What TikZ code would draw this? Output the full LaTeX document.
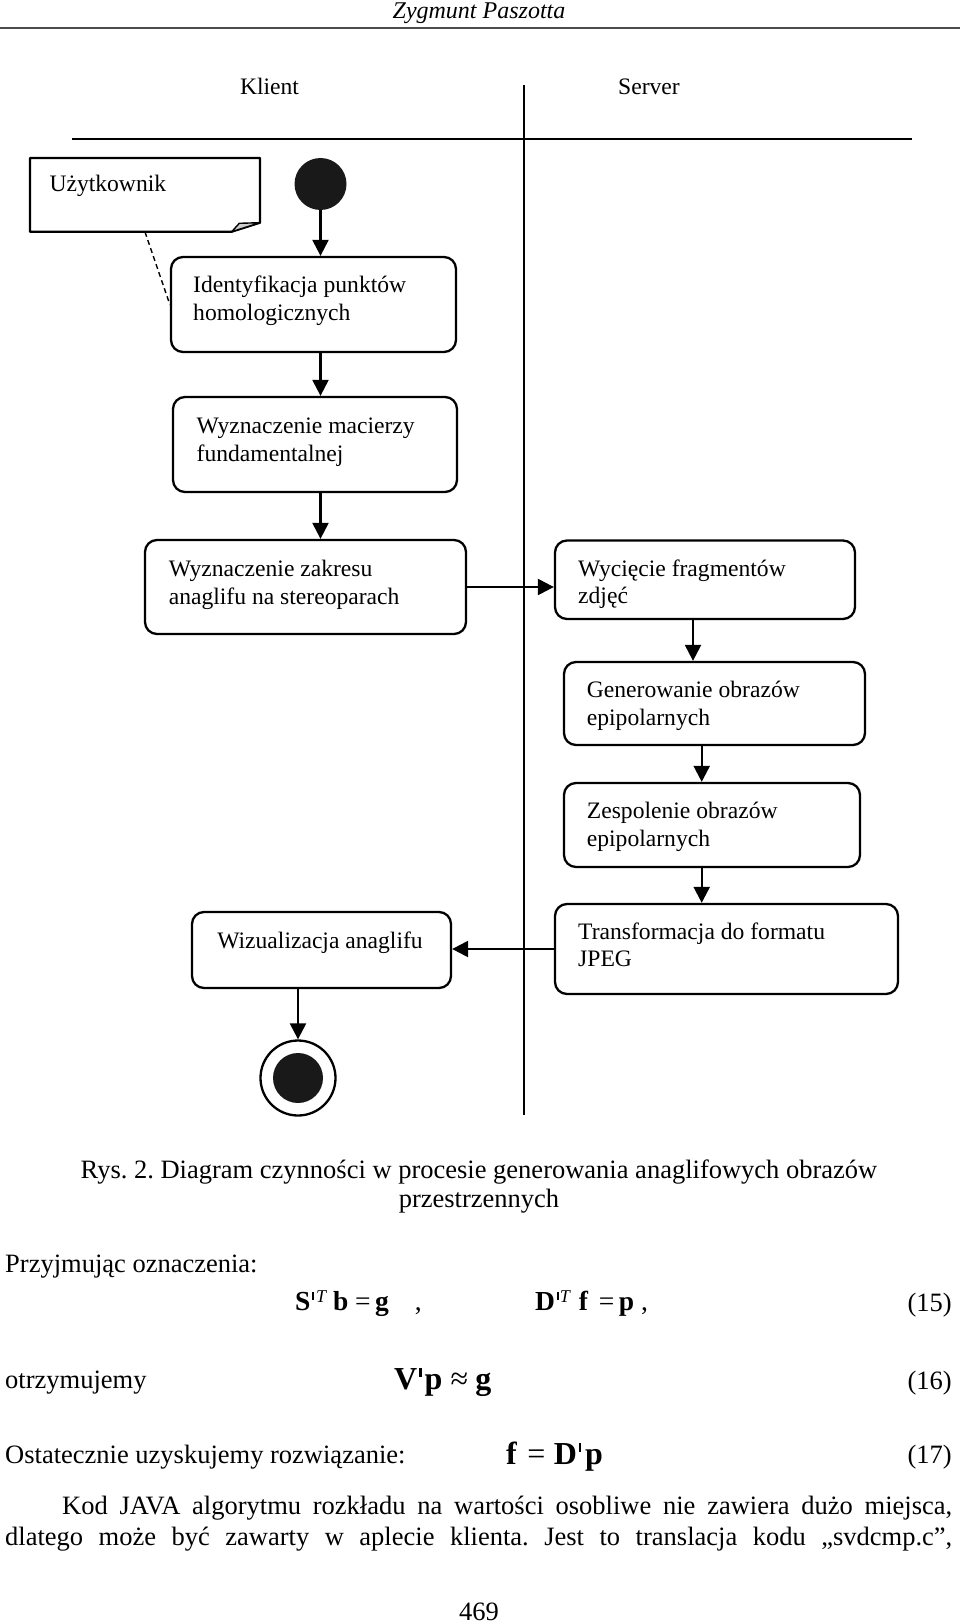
\documentclass[tikz,border=0pt]{standalone}
\usepackage{fontspec}
\setmainfont{Liberation Serif}
\usetikzlibrary{arrows.meta}
\newcommand\prm[3]{\raisebox{#1}{\rule{#3}{#2}}}
\tikzset{
 lane/.style={line width=2.2pt},
 actbox/.style={draw, line width=2.3pt, rounded corners=12pt, inner sep=0pt},
 flow/.style={line width=2.3pt, -{Triangle[width=16pt,length=16pt]}},
 dtxt/.style={font=\fontsize{23.6}{28}\selectfont, inner sep=0pt, anchor=base west},
 btxt/.style={font=\fontsize{26.5}{30}\selectfont, inner sep=0pt},
 eqs/.style={font=\fontsize{27.5}{30}\selectfont\bfseries, inner sep=0pt, anchor=base west},
 eqb/.style={font=\fontsize{32}{34}\selectfont\bfseries, inner sep=0pt, anchor=base west},
}
\frenchspacing
\begin{document}
\frenchspacing
\begin{tikzpicture}[x=1pt,y=-1pt]
\useasboundingbox (0,0) rectangle (960,1624);
% header
\node[font=\fontsize{24}{26}\selectfont\itshape, anchor=base, inner sep=0pt] (hdr) at (479,19) {Zygmunt Paszotta};
\draw[line width=2.6pt, black!70] (0,28) -- (960,28);
% swimlanes
\node[dtxt, anchor=base] (klient) at (269.5,95) {Klient};
\node[dtxt, anchor=base] (server) at (649,95) {Server};
\draw[lane] (72,139) -- (912,139);
\draw[lane] (524,85) -- (524,1115);
% note
\draw[line width=2.2pt, line join=round, fill=white] (30,158) -- (260,158) -- (260,222.7) -- (231.7,231.7) -- (30,231.7) -- cycle;
\draw[line width=1.4pt, line join=round, fill=gray!40] (231.7,231.7) -- (239.3,223.3) -- (260,222.7) -- cycle;
\node[dtxt] (note) at (49.3,191.7) {Użytkownik};
\coordinate (notept) at (145,232);
% initial / final
\node[circle, fill=black!90, minimum size=52pt, inner sep=0pt] (init) at (320.5,184) {};
\node[circle, draw, line width=2.3pt, minimum size=75pt, inner sep=0pt] (fin) at (298,1078) {};
\node[circle, fill=black!90, minimum size=50pt, inner sep=0pt] (finc) at (298,1078) {};
% activities
\node[actbox, minimum width=285pt, minimum height=95pt] (b1) at (313.5,304.5) {};
\node[actbox, minimum width=284pt, minimum height=95pt] (b2) at (315,444.5) {};
\node[actbox, minimum width=321pt, minimum height=94pt] (b3) at (305.5,587) {};
\node[actbox, minimum width=300pt, minimum height=78.5pt] (b4) at (705,579.75) {};
\node[actbox, minimum width=301pt, minimum height=83pt] (b5) at (714.5,703.5) {};
\node[actbox, minimum width=296pt, minimum height=84pt] (b6) at (712,825) {};
\node[actbox, minimum width=343pt, minimum height=90pt] (b7) at (726.5,949) {};
\node[actbox, minimum width=259pt, minimum height=76pt] (b8) at (321.5,950) {};
% activity texts
\node[dtxt] (t1a) at (193,292.7) {Identyfikacja punktów};
\node[dtxt] (t1b) at (193,320) {homologicznych};
\node[dtxt] (t2a) at (196.5,433) {Wyznaczenie macierzy};
\node[dtxt] (t2b) at (196.5,461) {fundamentalnej};
\node[dtxt] (t3a) at (168.6,576) {Wyznaczenie zakresu};
\node[dtxt] (t3b) at (168.6,604) {anaglifu na stereoparach};
\node[dtxt] (t4a) at (578,576) {Wycięcie fragmentów};
\node[dtxt] (t4b) at (578,603.5) {zdjęć};
\node[dtxt] (t5a) at (586.7,697) {Generowanie obrazów};
\node[dtxt] (t5b) at (586.7,725) {epipolarnych};
\node[dtxt] (t6a) at (586.7,818.5) {Zespolenie obrazów};
\node[dtxt] (t6b) at (586.7,846.5) {epipolarnych};
\node[dtxt] (t7a) at (578,939) {Transformacja do formatu};
\node[dtxt] (t7b) at (578,966.7) {JPEG};
\node[dtxt, anchor=base] (t8) at (320,948) {Wizualizacja anaglifu};
% connectors
\draw[line width=1.4pt, dash pattern=on 5pt off 3.5pt] (notept) -- (b1.west);
\draw[flow] (init) -- (init |- b1.north);
\draw[flow] (b1.south -| init) -- (b2.north -| init);
\draw[flow] (b2.south -| init) -- (b3.north -| init);
\draw[flow] (b3.east) -- (b3.east -| b4.west);
\coordinate (x45) at (693,0);
\coordinate (x56) at (701.7,0);
\draw[flow] (b4.south -| x45) -- (b5.north -| x45);
\draw[flow] (b5.south -| x56) -- (b6.north -| x56);
\draw[flow] (b6.south -| x56) -- (b7.north -| x56);
\draw[flow] (b7.west) -- (b7.west -| b8.east);
\draw[flow] (b8.south -| fin) -- (fin.north);
% caption
\node[btxt, anchor=base] (cap1) at (479,1178) {Rys. 2. Diagram czynności w procesie generowania anaglifowych obrazów};
\node[btxt, anchor=base] (cap2) at (479,1207) {przestrzennych};
% body
\node[btxt, anchor=base west] (p1) at (5,1272) {Przyjmując oznaczenia:};
\node[eqs] (eq15a) at (295,1310) {S\hspace{1.5pt}\prm{10.5pt}{8pt}{2.2pt}\hspace{2pt}\raisebox{8pt}{\fontsize{18}{18}\selectfont\mdseries\itshape T}\hspace{7pt}b\hspace{6.5pt}{\mdseries =}\hspace{4.5pt}g\hspace{26pt}{\mdseries ,}};
\node[eqs] (eq15b) at (535,1310) {D\hspace{2pt}\prm{10.5pt}{8pt}{2.2pt}\hspace{0.5pt}\raisebox{8pt}{\fontsize{18}{18}\selectfont\mdseries\itshape T}\hspace{9pt}f\hspace{11pt}{\mdseries =}\hspace{4.5pt}p\hspace{7pt}{\mdseries ,}};
\node[btxt, anchor=base east] (n15) at (952,1311) {(15)};
\node[btxt, anchor=base west] (p2) at (5,1388) {otrzymujemy};
\node[eqb] (eq16) at (394,1389) {V\hspace{2pt}\prm{12.5pt}{9pt}{2.4pt}\hspace{3pt}p\hspace{8pt}{\mdseries ≈}\hspace{7.4pt}g};
\node[btxt, anchor=base east] (n16) at (952,1389) {(16)};
\node[btxt, anchor=base west] (p3) at (5,1463) {Ostatecznie uzyskujemy rozwiązanie:};
\node[eqb] (eq17) at (506,1464) {f\hspace{10.5pt}{\mdseries =}\hspace{8.5pt}D\hspace{1.5pt}\prm{12.5pt}{9pt}{2.4pt}\hspace{4.3pt}p};
\node[btxt, anchor=base east] (n17) at (952,1463) {(17)};
\node[btxt, anchor=base west] (par1) at (62,1514) {\makebox[890pt][s]{Kod JAVA algorytmu rozkładu na wartości osobliwe nie zawiera dużo miejsca,}};
\node[btxt, anchor=base west] (par2) at (5,1545) {\makebox[947pt][s]{dlatego może być zawarty w aplecie klienta. Jest to translacja kodu „svdcmp.c”,}};
\node[btxt, anchor=base] (pg) at (479,1620) {469};
\end{tikzpicture}
\end{document}
